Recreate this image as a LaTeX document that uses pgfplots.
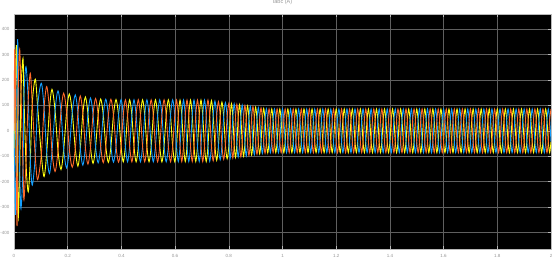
\documentclass[border=0pt]{standalone}
\usepackage{fontspec}
\setmainfont{Liberation Sans}
\usepackage{pgfplots}
\usepackage{pgfplotstable}
\pgfplotsset{compat=1.18}
\definecolor{simY}{rgb}{1,1,0.0667}
\definecolor{simB}{rgb}{0.0745,0.6235,1}
\definecolor{simO}{rgb}{1,0.4118,0.1608}
\definecolor{gridc}{RGB}{95,95,95}
\definecolor{framec}{RGB}{185,185,185}
\definecolor{labc}{RGB}{150,150,150}
\pgfplotstableread[row sep=\\]{
t a b c\\
0 0 0 0\\
0.0026 -159 -159 318\\ 0.0056 165 -330 165\\ 0.0086 337 -169 -169\\ 0.0112 188 188 -375\\ 0.0138 -180 360 -180\\ 0.0160 -342 171 171\\
0.0212 -160 -160 320\\ 0.0260 153 -306 153\\ 0.0335 285 -143 -143\\ 0.0370 136 136 -271\\ 0.0447 -126 252 -126\\ 0.0530 -240 120 120\\
0.0607 -113 -113 226\\ 0.0680 107 -214 107\\ 0.0793 203 -102 -102\\ 0.0880 96 96 -192\\ 0.1017 -94 187 -94\\ 0.1120 -180 90 90\\
0.1218 -87 -87 174\\ 0.1320 84 -168 84\\ 0.1415 163 -82 -82\\ 0.1530 80 80 -160\\ 0.1639 -79 157 -79\\ 0.1750 -152 76 76\\
0.1851 -74 -74 148\\ 0.1960 73 -146 73\\ 0.2060 145 -73 -73\\ 0.2170 72 72 -143\\ 0.2283 -71 141 -71\\ 0.2380 -139 70 70\\
0.2469 -69 -69 137\\ 0.2564 68 -135 68\\ 0.2659 133 -67 -67\\ 0.2754 66 66 -131\\ 0.2849 -65 129 -65\\ 0.2944 -128 64 64\\
0.3039 -64 -64 127\\ 0.3134 63 -126 63\\ 0.3229 125 -63 -63\\ 0.3324 63 63 -125\\ 0.3419 -62 124 -62\\ 0.3514 -124 62 62\\
0.3609 -62 -62 124\\ 0.3704 62 -123 62\\ 0.3799 123 -62 -62\\ 0.3894 62 62 -123\\ 0.3989 -62 123 -62\\ 0.4069 -122 61 61\\
0.4149 -61 -61 122\\ 0.4229 61 -122 61\\ 0.4309 122 -61 -61\\ 0.4389 61 61 -122\\ 0.4469 -61 122 -61\\ 0.4549 -122 61 61\\
0.4629 -61 -61 122\\ 0.4709 61 -122 61\\ 0.4789 122 -61 -61\\ 0.4869 61 61 -122\\ 0.4949 -61 122 -61\\ 0.5029 -122 61 61\\
0.5109 -61 -61 122\\ 0.5189 61 -122 61\\ 0.5269 122 -61 -61\\ 0.5349 61 61 -122\\ 0.5429 -61 122 -61\\ 0.5509 -122 61 61\\
0.5589 -61 -61 122\\ 0.5669 61 -122 61\\ 0.5749 122 -61 -61\\ 0.5829 61 61 -122\\ 0.5909 -61 122 -61\\ 0.5989 -122 61 61\\
0.6054 -60 -60 121\\ 0.6119 60 -121 60\\ 0.6184 121 -60 -60\\ 0.6249 60 60 -121\\ 0.6314 -60 121 -60\\ 0.6379 -121 60 60\\
0.6444 -60 -60 121\\ 0.6509 60 -121 60\\ 0.6574 121 -60 -60\\ 0.6639 60 60 -121\\ 0.6704 -60 121 -60\\ 0.6769 -121 60 60\\
0.6834 -60 -60 121\\ 0.6899 60 -121 60\\ 0.6964 121 -60 -60\\ 0.7029 60 60 -121\\ 0.7094 -60 121 -60\\ 0.7159 -121 60 60\\
0.7224 -60 -60 121\\ 0.7289 60 -120 60\\ 0.7354 119 -60 -60\\ 0.7419 59 59 -118\\ 0.7484 -59 117 -59\\ 0.7549 -116 58 58\\
0.7614 -58 -58 115\\ 0.7679 57 -114 57\\ 0.7744 113 -57 -57\\ 0.7809 56 56 -112\\ 0.7874 -56 111 -56\\ 0.7939 -110 55 55\\
0.8004 -55 -55 109\\
0.805 54 -108 54\\ 0.810 107 -54 -54\\ 0.815 54 54 -107\\ 0.820 -53 106 -53\\ 0.825 -105 53 53\\ 0.830 -52 -52 104\\
0.835 52 -103 52\\ 0.840 103 -52 -52\\ 0.845 51 51 -102\\ 0.850 -51 101 -51\\ 0.855 -100 50 50\\ 0.860 -50 -50 99\\
0.865 50 -99 50\\ 0.870 98 -49 -49\\ 0.875 49 49 -97\\ 0.880 -48 96 -48\\ 0.885 -95 48 48\\ 0.890 -48 -48 95\\
0.895 47 -94 47\\ 0.900 93 -47 -47\\ 0.905 46 46 -92\\ 0.910 -46 91 -46\\ 0.915 -91 46 46\\ 0.920 -45 -45 90\\
0.925 45 -89 45\\ 0.930 88 -44 -44\\ 0.935 44 44 -88\\ 0.940 -44 87 -44\\ 0.945 -87 44 44\\ 0.950 -43 -43 86\\
0.955 43 -86 43\\ 0.960 86 -43 -43\\ 0.965 43 43 -86\\ 0.970 -43 86 -43\\ 0.975 -86 43 43\\ 0.980 -43 -43 86\\
0.985 43 -86 43\\ 0.990 86 -43 -43\\ 0.995 43 43 -86\\ 1.000 -43 86 -43\\ 1.005 -86 43 43\\ 1.010 -43 -43 86\\
1.015 43 -86 43\\ 1.020 86 -43 -43\\ 1.025 43 43 -86\\ 1.030 -43 86 -43\\ 1.035 -86 43 43\\ 1.040 -43 -43 86\\
1.045 43 -86 43\\ 1.050 86 -43 -43\\ 1.055 43 43 -86\\ 1.060 -43 86 -43\\ 1.065 -86 43 43\\ 1.070 -43 -43 86\\
1.075 43 -86 43\\ 1.080 86 -43 -43\\ 1.085 43 43 -86\\ 1.090 -43 86 -43\\ 1.095 -86 43 43\\ 1.100 -43 -43 86\\
1.105 43 -86 43\\ 1.110 86 -43 -43\\ 1.115 43 43 -86\\ 1.120 -43 86 -43\\ 1.125 -86 43 43\\ 1.130 -43 -43 86\\
1.135 43 -86 43\\ 1.140 86 -43 -43\\ 1.145 43 43 -86\\ 1.150 -43 86 -43\\ 1.155 -86 43 43\\ 1.160 -43 -43 86\\
1.165 43 -86 43\\ 1.170 86 -43 -43\\ 1.175 43 43 -86\\ 1.180 -43 86 -43\\ 1.185 -86 43 43\\ 1.190 -43 -43 86\\
1.195 43 -86 43\\ 1.200 86 -43 -43\\ 1.205 43 43 -86\\ 1.210 -43 86 -43\\ 1.215 -86 43 43\\ 1.220 -43 -43 86\\
1.225 43 -86 43\\ 1.230 86 -43 -43\\ 1.235 43 43 -86\\ 1.240 -43 86 -43\\ 1.245 -86 43 43\\ 1.250 -43 -43 86\\
1.255 43 -86 43\\ 1.260 86 -43 -43\\ 1.265 43 43 -86\\ 1.270 -43 86 -43\\ 1.275 -86 43 43\\ 1.280 -43 -43 86\\
1.285 43 -86 43\\ 1.290 86 -43 -43\\ 1.295 43 43 -86\\ 1.300 -43 86 -43\\ 1.305 -86 43 43\\ 1.310 -43 -43 86\\
1.315 43 -86 43\\ 1.320 86 -43 -43\\ 1.325 43 43 -86\\ 1.330 -43 86 -43\\ 1.335 -86 43 43\\ 1.340 -43 -43 86\\
1.345 43 -86 43\\ 1.350 86 -43 -43\\ 1.355 43 43 -86\\ 1.360 -43 86 -43\\ 1.365 -86 43 43\\ 1.370 -43 -43 86\\
1.375 43 -86 43\\ 1.380 86 -43 -43\\ 1.385 43 43 -86\\ 1.390 -43 86 -43\\ 1.395 -86 43 43\\ 1.400 -43 -43 86\\
1.405 43 -86 43\\ 1.410 86 -43 -43\\ 1.415 43 43 -86\\ 1.420 -43 86 -43\\ 1.425 -86 43 43\\ 1.430 -43 -43 86\\
1.435 43 -86 43\\ 1.440 86 -43 -43\\ 1.445 43 43 -86\\ 1.450 -43 86 -43\\ 1.455 -86 43 43\\ 1.460 -43 -43 86\\
1.465 43 -86 43\\ 1.470 86 -43 -43\\ 1.475 43 43 -86\\ 1.480 -43 86 -43\\ 1.485 -86 43 43\\ 1.490 -43 -43 86\\
1.495 43 -86 43\\ 1.500 86 -43 -43\\ 1.505 43 43 -86\\ 1.510 -43 86 -43\\ 1.515 -86 43 43\\ 1.520 -43 -43 86\\
1.525 43 -86 43\\ 1.530 86 -43 -43\\ 1.535 43 43 -86\\ 1.540 -43 86 -43\\ 1.545 -86 43 43\\ 1.550 -43 -43 86\\
1.555 43 -86 43\\ 1.560 86 -43 -43\\ 1.565 43 43 -86\\ 1.570 -43 86 -43\\ 1.575 -86 43 43\\ 1.580 -43 -43 86\\
1.585 43 -86 43\\ 1.590 86 -43 -43\\ 1.595 43 43 -86\\ 1.600 -43 86 -43\\ 1.605 -86 43 43\\ 1.610 -43 -43 86\\
1.615 43 -86 43\\ 1.620 86 -43 -43\\ 1.625 43 43 -86\\ 1.630 -43 86 -43\\ 1.635 -86 43 43\\ 1.640 -43 -43 86\\
1.645 43 -86 43\\ 1.650 86 -43 -43\\ 1.655 43 43 -86\\ 1.660 -43 86 -43\\ 1.665 -86 43 43\\ 1.670 -43 -43 86\\
1.675 43 -86 43\\ 1.680 86 -43 -43\\ 1.685 43 43 -86\\ 1.690 -43 86 -43\\ 1.695 -86 43 43\\ 1.700 -43 -43 86\\
1.705 43 -86 43\\ 1.710 86 -43 -43\\ 1.715 43 43 -86\\ 1.720 -43 86 -43\\ 1.725 -86 43 43\\ 1.730 -43 -43 86\\
1.735 43 -86 43\\ 1.740 86 -43 -43\\ 1.745 43 43 -86\\ 1.750 -43 86 -43\\ 1.755 -86 43 43\\ 1.760 -43 -43 86\\
1.765 43 -86 43\\ 1.770 86 -43 -43\\ 1.775 43 43 -86\\ 1.780 -43 86 -43\\ 1.785 -86 43 43\\ 1.790 -43 -43 86\\
1.795 43 -86 43\\ 1.800 86 -43 -43\\ 1.805 43 43 -86\\ 1.810 -43 86 -43\\ 1.815 -86 43 43\\ 1.820 -43 -43 86\\
1.825 43 -86 43\\ 1.830 86 -43 -43\\ 1.835 43 43 -86\\ 1.840 -43 86 -43\\ 1.845 -86 43 43\\ 1.850 -43 -43 86\\
1.855 43 -86 43\\ 1.860 86 -43 -43\\ 1.865 43 43 -86\\ 1.870 -43 86 -43\\ 1.875 -86 43 43\\ 1.880 -43 -43 86\\
1.885 43 -86 43\\ 1.890 86 -43 -43\\ 1.895 43 43 -86\\ 1.900 -43 86 -43\\ 1.905 -86 43 43\\ 1.910 -43 -43 86\\
1.915 43 -86 43\\ 1.920 86 -43 -43\\ 1.925 43 43 -86\\ 1.930 -43 86 -43\\ 1.935 -86 43 43\\ 1.940 -43 -43 86\\
1.945 43 -86 43\\ 1.950 86 -43 -43\\ 1.955 43 43 -86\\ 1.960 -43 86 -43\\ 1.965 -86 43 43\\ 1.970 -43 -43 86\\
1.975 43 -86 43\\ 1.980 86 -43 -43\\ 1.985 43 43 -86\\ 1.990 -43 86 -43\\ 1.995 -86 43 43\\ 2.000 -43 -43 86\\
}\iabc

\begin{document}
\begin{tikzpicture}[x=1pt,y=1pt]
\fill[white] (0,0) rectangle (554,264);
\begin{axis}[
  at={(14pt,19pt)}, anchor=south west,
  scale only axis, width=537pt, height=235pt,
  xmin=0, xmax=2, ymin=-466, ymax=458,
  xtick={0,0.2,0.4,0.6,0.8,1,1.2,1.4,1.6,1.8,2},
  ytick={-400,-300,-200,-100,0,100,200,300,400},
  axis background/.style={fill=black},
  grid=major, major grid style={draw=gridc, line width=0.6pt},
  axis line style={draw=framec, line width=0.6pt},
  tick style={draw=framec, line width=0.6pt},
  tick align=inside, major tick length=3pt,
  /pgf/number format/assume math mode=true,
  ticklabel style={font=\fontsize{4.5}{5}\selectfont, text=labc},
  xticklabel style={anchor=north, inner sep=0pt, yshift=-5pt},
  yticklabel style={anchor=east, inner sep=0pt, xshift=-4.5pt},
  title={Iabc (A)},
  title style={font=\fontsize{5.5}{6}\selectfont, text=labc, at={(0.5,1)}, anchor=south, yshift=3pt, inner sep=0pt},
  every axis plot/.append style={line width=0.9pt, smooth, no markers},
]
\addplot[simY] table[x=t, y=a] {\iabc};
\addplot[simB] table[x=t, y=b] {\iabc};
\addplot[simO] table[x=t, y=c] {\iabc};
\end{axis}
\end{tikzpicture}
\end{document}
